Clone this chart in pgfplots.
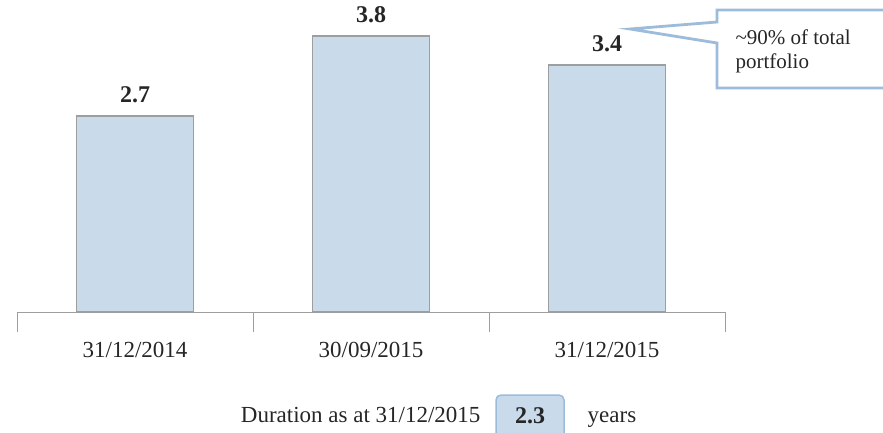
\documentclass[border=0pt]{standalone}
\usepackage{fontspec}
\setmainfont{Liberation Serif}
\usepackage{pgfplots}
\pgfplotsset{compat=1.18}
\definecolor{barfill}{HTML}{C9DAEB}
\definecolor{baredge}{HTML}{9E9E9E}
\definecolor{callout}{HTML}{9DBCDB}
\begin{document}
\begin{tikzpicture}
\useasboundingbox (-17pt,-120pt) rectangle (866pt,312pt);
\begin{axis}[
  scale only axis, width=708pt, height=305pt,
  anchor=south west, at={(0pt,0pt)},
  xmin=-0.5, xmax=2.5, ymin=0, ymax=4.2,
  axis x line*=bottom, axis y line=none,
  x axis line style={baredge, line width=0.8pt, -},
  xtick={0,1,2}, xticklabels={31/12/2014,30/09/2015,31/12/2015},
  major tick length=0pt,
  extra x ticks={-0.5,0.5,1.5,2.5}, extra x tick labels={},
  extra x tick style={major tick length=20pt, tick style={baredge, line width=0.8pt}},
  xticklabel style={font=\fontsize{23}{25}\selectfont, yshift=-27pt, text=black!85},
  ybar, bar width=117pt,
  nodes near coords,
  nodes near coords style={font=\fontsize{24}{26}\selectfont\bfseries, text=black!85, yshift=9pt},
  point meta=y,
  every node near coord/.append style={/pgf/number format/.cd, fixed, precision=1, fixed zerofill, assume math mode=true},
]
\addplot[fill=barfill, draw=baredge, line width=1.2pt] coordinates {(0,2.7) (1,3.8) (2,3.4)};
\end{axis}
% callout
\draw[callout, line width=2.8pt, fill=white, line join=miter]
  (700pt,290pt) -- (613pt,283pt) -- (700pt,269pt) -- (700pt,224pt) -- (875pt,224pt)
  -- (875pt,302pt) -- (700pt,302pt) -- cycle;
\node[anchor=west, align=left, font=\fontsize{21}{24}\selectfont, text=black!85] at (715pt,261pt)
  {\textasciitilde 90\% of total\\portfolio};
% bottom note
\node[anchor=base east, font=\fontsize{23}{25}\selectfont, text=black!85] at (467pt,-110pt) {Duration as at 31/12/2015};
\draw[callout, fill=barfill, line width=1.5pt, rounded corners=5pt] (479pt,-83pt) rectangle (547pt,-132pt);
\node[anchor=base, font=\fontsize{24}{26}\selectfont\bfseries, text=black!85] at (513pt,-111pt) {2.3};
\node[anchor=base, font=\fontsize{23}{25}\selectfont, text=black!85] at (595pt,-110pt) {years};
\end{tikzpicture}
\end{document}
